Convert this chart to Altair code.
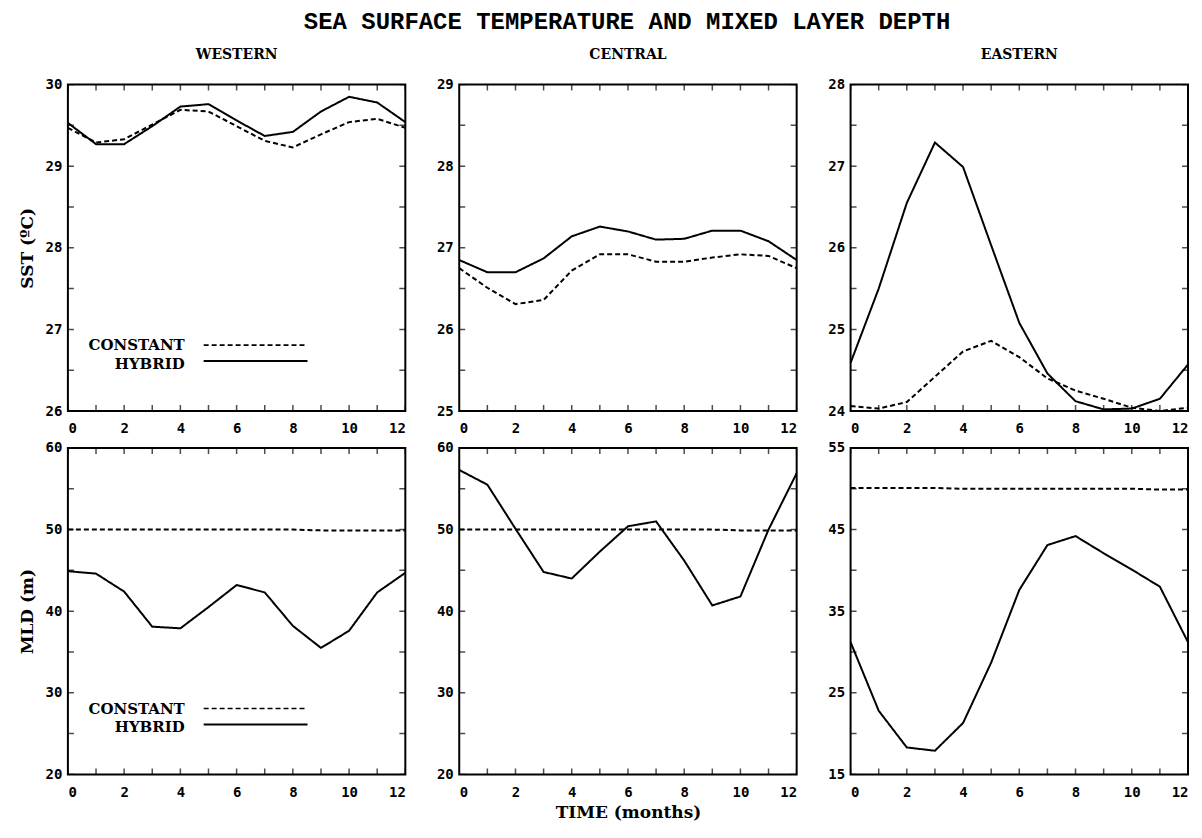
import altair as alt
import pandas as pd

# ---------------- data ----------------
months = [0, 1, 2, 3, 4, 5, 6, 7, 8, 9, 10, 11, 12]
x_label_values = [0, 2, 4, 6, 8, 10, 12]

west_sst_constant = [29.47, 29.29, 29.33, 29.51, 29.69, 29.67, 29.49, 29.31, 29.23, 29.39, 29.54, 29.58, 29.47]
west_sst_hybrid = [29.53, 29.27, 29.27, 29.49, 29.73, 29.76, 29.56, 29.37, 29.42, 29.67, 29.85, 29.78, 29.54]
central_sst_constant = [26.75, 26.51, 26.31, 26.36, 26.72, 26.92, 26.92, 26.83, 26.83, 26.88, 26.92, 26.90, 26.75]
central_sst_hybrid = [26.85, 26.70, 26.70, 26.87, 27.14, 27.26, 27.20, 27.10, 27.11, 27.21, 27.21, 27.08, 26.85]
east_sst_constant = [24.06, 24.03, 24.11, 24.42, 24.73, 24.86, 24.66, 24.40, 24.25, 24.15, 24.04, 24.00, 24.04]
east_sst_hybrid = [24.59, 25.50, 26.55, 27.29, 26.99, 26.03, 25.08, 24.46, 24.12, 24.02, 24.03, 24.15, 24.57]

west_mld_constant = [50.0, 50.0, 50.0, 50.0, 50.0, 50.0, 50.0, 50.0, 50.0, 49.9, 49.9, 49.9, 49.9]
west_mld_hybrid = [44.9, 44.6, 42.4, 38.1, 37.9, 40.5, 43.2, 42.3, 38.2, 35.5, 37.6, 42.3, 44.7]
central_mld_constant = [50.0, 50.0, 50.0, 50.0, 50.0, 50.0, 50.0, 50.0, 50.0, 50.0, 49.9, 49.9, 49.9]
central_mld_hybrid = [57.3, 55.5, 50.1, 44.8, 44.0, 47.3, 50.4, 51.0, 46.2, 40.7, 41.8, 50.0, 56.9]
east_mld_constant = [50.1, 50.1, 50.1, 50.1, 50.0, 50.0, 50.0, 50.0, 50.0, 50.0, 50.0, 49.9, 49.9]
east_mld_hybrid = [31.2, 22.8, 18.3, 17.9, 21.3, 28.7, 37.6, 43.1, 44.2, 42.1, 40.1, 38.0, 31.2]

sst_w_labels = [26, 27, 28, 29, 30]
sst_w_ticks = [26, 26.5, 27, 27.5, 28, 28.5, 29, 29.5, 30]
sst_c_labels = [25, 26, 27, 28, 29]
sst_c_ticks = [25, 25.5, 26, 26.5, 27, 27.5, 28, 28.5, 29]
sst_e_labels = [24, 25, 26, 27, 28]
sst_e_ticks = [24, 24.5, 25, 25.5, 26, 26.5, 27, 27.5, 28]
mld_labels = [20, 30, 40, 50, 60]
mld_ticks = [20, 25, 30, 35, 40, 45, 50, 55, 60]
mld_e_labels = [15, 25, 35, 45, 55]
mld_e_ticks = [15, 20, 25, 30, 35, 40, 45, 50, 55]

series_names = ["CONSTANT", "HYBRID"]

W, H = 338, 327
SERIF = "DejaVu Serif"
MONO = "DejaVu Sans Mono"
TITLE_FONT = "Liberation Mono"


def panel(const, hyb, domain, label_vals, tick_vals, ytitle=None, xtitle=None,
          col_title=None, legend=False):
    df = pd.DataFrame({
        "month": months * 2,
        "value": const + hyb,
        "series": [series_names[0]] * len(months) + [series_names[1]] * len(months),
    })
    xaxis_kw = dict(values=x_label_values, format="d", labelPadding=11)
    yaxis_kw = dict(values=label_vals, format="d", labelPadding=6, titlePadding=9)
    xaxis = alt.Axis(title=xtitle, titlePadding=5, **xaxis_kw) if xtitle else alt.Axis(title=None, **xaxis_kw)
    yaxis = alt.Axis(title=ytitle, **yaxis_kw) if ytitle else alt.Axis(title=None, **yaxis_kw)
    xenc = alt.X("month:Q", scale=alt.Scale(domain=[0, 12], nice=False, zero=False), axis=xaxis)
    yenc = alt.Y("value:Q", scale=alt.Scale(domain=domain, nice=False, zero=False), axis=yaxis)

    lines = alt.Chart(df).mark_line(clip=True, color="black", strokeWidth=2).encode(
        x=xenc,
        y=yenc,
        strokeDash=alt.StrokeDash(
            "series:N",
            scale=alt.Scale(domain=series_names, range=[[5, 3], [1, 0]]),
            legend=None,
        ),
        detail="series:N",
    )

    xt = pd.DataFrame({"month": months})
    yt = pd.DataFrame({"value": tick_vals})
    tick = dict(clip=True, color="black", thickness=1.5, size=12)
    xb = alt.Chart(xt).mark_tick(**tick).encode(x=xenc, y=alt.value(H))
    xtp = alt.Chart(xt).mark_tick(**tick).encode(x=xenc, y=alt.value(0))
    yl = alt.Chart(yt).mark_tick(**tick).encode(y=yenc, x=alt.value(0))
    yr = alt.Chart(yt).mark_tick(**tick).encode(y=yenc, x=alt.value(W))

    layers = [lines, xb, xtp, yl, yr]
    if legend:
        txt = dict(font=SERIF, fontWeight="bold", fontSize=15, align="right",
                   baseline="middle", color="black")
        l1 = alt.Chart(pd.DataFrame({"label": [series_names[0]]})).mark_text(**txt).encode(
            text="label:N", x=alt.value(117), y=alt.value(261))
        l2 = alt.Chart(pd.DataFrame({"label": [series_names[1]]})).mark_text(**txt).encode(
            text="label:N", x=alt.value(117), y=alt.value(280))
        r1 = alt.Chart(pd.DataFrame({"label": [series_names[0]]})).mark_rule(
            color="black", strokeWidth=1.6, strokeDash=[5, 3]).encode(
            x=alt.value(136), x2=alt.value(240), y=alt.value(261))
        r2 = alt.Chart(pd.DataFrame({"label": [series_names[1]]})).mark_rule(
            color="black", strokeWidth=2).encode(
            x=alt.value(136), x2=alt.value(240), y=alt.value(277))
        layers += [l1, l2, r1, r2]

    props = dict(width=W, height=H)
    if col_title:
        props["title"] = alt.TitleParams(col_title, font=SERIF, fontSize=14,
                                         fontWeight="bold", color="black", offset=16)
    return alt.layer(*layers).properties(**props)


panels = [
    panel(west_sst_constant, west_sst_hybrid, [26, 30], sst_w_labels, sst_w_ticks,
          ytitle="SST (\u00baC)", col_title="WESTERN", legend=True),
    panel(central_sst_constant, central_sst_hybrid, [25, 29], sst_c_labels, sst_c_ticks,
          col_title="CENTRAL"),
    panel(east_sst_constant, east_sst_hybrid, [24, 28], sst_e_labels, sst_e_ticks,
          col_title="EASTERN"),
    panel(west_mld_constant, west_mld_hybrid, [20, 60], mld_labels, mld_ticks,
          ytitle="MLD (m)", legend=True),
    panel(central_mld_constant, central_mld_hybrid, [20, 60], mld_labels, mld_ticks,
          xtitle="TIME (months)"),
    panel(east_mld_constant, east_mld_hybrid, [15, 55], mld_e_labels, mld_e_ticks),
]

chart = alt.concat(
    *panels,
    columns=3,
    spacing={"row": 37, "column": 54},
    bounds="flush",
).properties(
    title=alt.TitleParams(
        "SEA SURFACE TEMPERATURE AND MIXED LAYER DEPTH",
        font=TITLE_FONT, fontSize=24, fontWeight="bold", color="black",
        anchor="middle", offset=13, dx=24,
    ),
    padding={"left": 9, "top": 1, "right": 5, "bottom": 5},
    background="white",
).configure_view(
    stroke="black", strokeWidth=2
).configure_axis(
    domain=False, ticks=False, grid=False,
    labelFont=MONO, labelFontWeight="bold", labelFontSize=14, labelColor="black",
    titleFont=SERIF, titleFontWeight="bold", titleFontSize=17, titleColor="black",
)

chart.save("out.html", embed_options={"renderer": "svg", "actions": False})
